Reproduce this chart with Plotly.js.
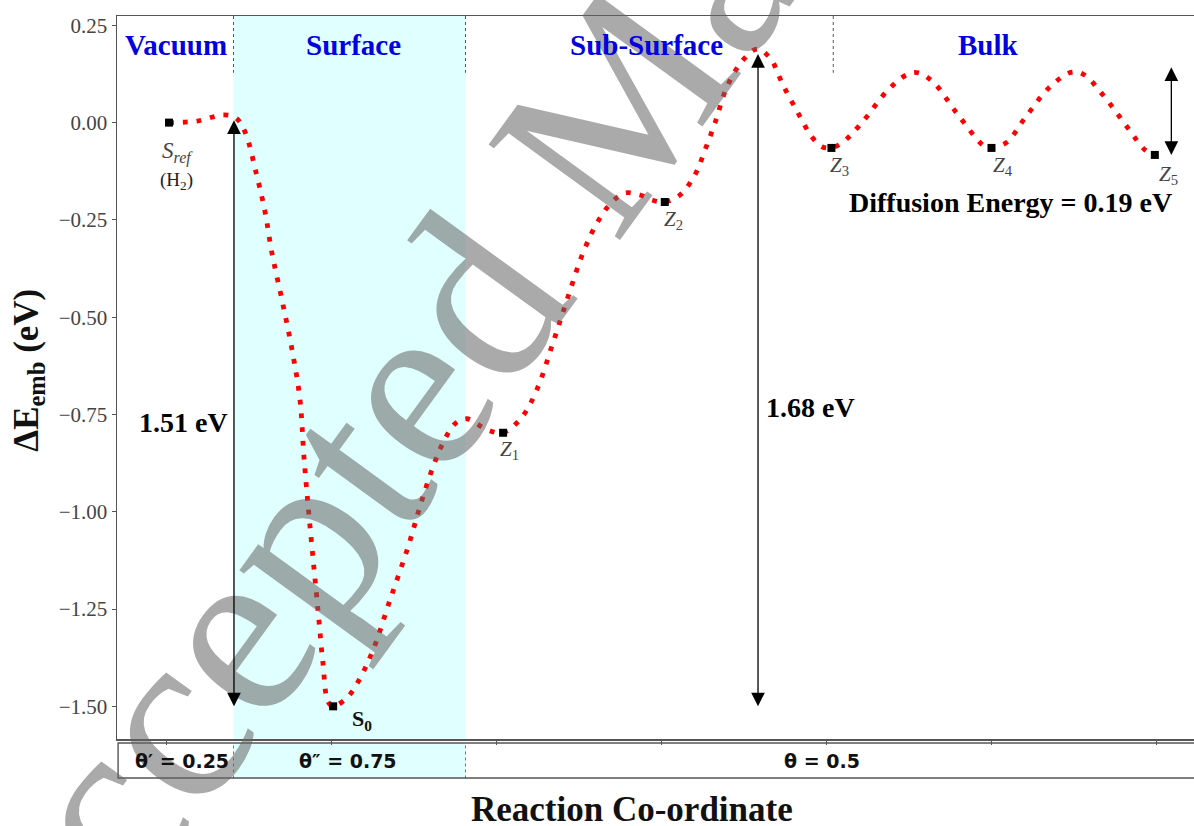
<!DOCTYPE html>
<html>
<head>
<meta charset="utf-8">
<script src="https://cdn.plot.ly/plotly-3.0.1.min.js"></script>
<style>
  html, body { margin: 0; padding: 0; background: #ffffff; overflow: hidden; }
  #chart { width: 1212px; height: 826px; }
</style>
</head>
<body>
<div id="chart"></div>
<script>
// Energy profile of H along the reaction co-ordinate (vacuum -> surface -> sub-surface -> bulk)
const pathX = [0.015, 0.185, 0.348, 0.421, 0.476, 0.542, 0.597, 0.639, 0.700, 0.761,
  0.809, 0.833, 0.870, 0.918, 0.948, 0.979, 1.010, 1.094, 1.161, 1.252,
  1.355, 1.464, 1.536, 1.615, 1.676, 1.748, 1.821, 1.942, 2.039, 2.155,
  2.245, 2.342, 2.427, 2.524, 2.609, 2.700, 2.779, 2.870, 2.942, 3.021,
  3.112, 3.203, 3.264, 3.324, 3.397, 3.494, 3.579, 3.658, 3.736, 3.827,
  3.912, 3.973, 4.027, 4.094, 4.215, 4.367, 4.494, 4.555, 4.645, 4.797,
  4.955, 5.003, 5.094, 5.203, 5.355, 5.488, 5.561, 5.676, 5.827, 5.930, 5.990];
const pathE = [0.000, 0.004, 0.020, 0.012, -0.024, -0.127, -0.229, -0.335, -0.456, -0.584,
  -0.712, -0.859, -1.039, -1.252, -1.388, -1.488, -1.500, -1.478, -1.437, -1.355,
  -1.226, -1.090, -0.987, -0.885, -0.823, -0.774, -0.761, -0.789, -0.797, -0.756,
  -0.686, -0.566, -0.456, -0.335, -0.258, -0.204, -0.181, -0.186, -0.199, -0.204,
  -0.186, -0.134, -0.070, -0.001, 0.092, 0.161, 0.189, 0.166, 0.097, 0.025,
  -0.037, -0.062, -0.065, -0.052, 0.000, 0.081, 0.125, 0.128, 0.105, 0.020,
  -0.060, -0.065, -0.050, 0.012, 0.092, 0.130, 0.123, 0.071, -0.014, -0.070, -0.083];

// Stationary states marked on the profile
const stateLabels = ['<i>S</i><sub><i>ref</i></sub>', '<b>S<sub>0</sub></b>',
  '<i>Z</i><sub>1</sub>', '<i>Z</i><sub>2</sub>', '<i>Z</i><sub>3</sub>',
  '<i>Z</i><sub>4</sub>', '<i>Z</i><sub>5</sub>'];
const stateX = [0.015, 1.01, 2.04, 3.02, 4.03, 5.00, 5.99];
const stateE = [0.00, -1.50, -0.797, -0.204, -0.065, -0.065, -0.083];

// Regions along the co-ordinate
const regionNames = ['Vacuum', 'Surface', 'Sub-Surface', 'Bulk'];
const regionCentres = [0.058, 1.136, 2.912, 4.979];
const regionBounds = [0.406, 1.812, 4.041];
const surfaceSpan = [0.406, 1.812];

// Coverage strip
const coverageLabels = ['θ′ = 0.25', 'θ″ = 0.75', 'θ = 0.5'];
const coverageCentres = [0.094, 1.10, 3.973];

// Energy arrows
const arrowX = [0.409, 3.585, 6.09];
const arrowTop = [0.01, 0.18, 0.146];
const arrowBottom = [-1.50, -1.50, -0.083];
const arrowLabels = ['1.51 eV', '1.68 eV', 'Diffusion Energy = 0.19 eV'];
const arrowLabelX = [0.100, 3.906, 5.118];
const arrowLabelE = [-0.771, -0.733, -0.204];

const yTicks = [0.25, 0.00, -0.25, -0.50, -0.75, -1.00, -1.25, -1.50];
const yTickText = ['0.25', '0.00', '−0.25', '−0.50', '−0.75', '−1.00', '−1.25', '−1.50'];
const xTicks = [0, 1, 2, 3, 4, 5, 6];

const SERIF = 'Liberation Serif, Times New Roman, serif';
const AXIS = '#555555';

const traces = [
  {
    x: pathX, y: pathE, type: 'scatter', mode: 'lines',
    line: { color: '#ff0000', width: 4.8, dash: '4.8px,9px', shape: 'spline', smoothing: 1 },
    hoverinfo: 'skip', showlegend: false
  },
  {
    x: stateX, y: stateE, type: 'scatter', mode: 'markers',
    marker: { symbol: 'square', size: 8, color: '#000000' },
    hoverinfo: 'skip', showlegend: false
  },
  // empty trace so the coverage strip panel gets drawn
  { x: [], y: [], xaxis: 'x2', yaxis: 'y2', type: 'scatter', mode: 'markers', hoverinfo: 'skip', showlegend: false }
];

const shapes = [];
// shaded surface region, main panel and coverage strip
shapes.push({ type: 'rect', xref: 'x', yref: 'y domain', x0: surfaceSpan[0], x1: surfaceSpan[1], y0: 0, y1: 1,
  fillcolor: '#e0ffff', line: { width: 0 }, layer: 'below' });
shapes.push({ type: 'rect', xref: 'x', yref: 'paper', x0: surfaceSpan[0], x1: surfaceSpan[1], y0: 0.0007, y1: 0.0472,
  fillcolor: '#e0ffff', line: { width: 0 }, layer: 'below' });
// region boundaries near the top of the panel
regionBounds.forEach(b => {
  shapes.push({ type: 'line', xref: 'x', yref: 'y', x0: b, x1: b, y0: 0.274, y1: 0.128,
    line: { color: '#555555', width: 1, dash: 'dot' } });
});
// boundaries in the coverage strip
[surfaceSpan[0], surfaceSpan[1]].forEach(b => {
  shapes.push({ type: 'line', xref: 'x', yref: 'paper', x0: b, x1: b, y0: 0.0007, y1: 0.0472,
    line: { color: '#777777', width: 1, dash: 'dot' } });
});
// frame of the coverage strip
shapes.push({ type: 'rect', xref: 'paper', yref: 'paper', x0: 0.001, x1: 1.2, y0: 0.0013, y1: 0.0472,
  fillcolor: 'rgba(0,0,0,0)', line: { color: AXIS, width: 1.4 } });

const annotations = [];

// journal watermark
annotations.push({
  xref: 'paper', yref: 'paper', x: 0.432, y: 0.8326, xanchor: 'center', yanchor: 'middle', showarrow: false,
  text: 'Accepted Manuscript', textangle: -54,
  font: { family: SERIF, size: 248, color: 'rgba(100,100,100,0.55)' }
});

regionNames.forEach((name, i) => {
  annotations.push({ xref: 'x', yref: 'y', x: regionCentres[i], y: 0.200, xanchor: 'center', yanchor: 'middle',
    showarrow: false, text: '<b>' + name + '</b>', font: { family: SERIF, size: 29, color: '#0000e0' } });
});

coverageLabels.forEach((t, i) => {
  annotations.push({ xref: 'x', yref: 'paper', x: coverageCentres[i], y: 0.024, xanchor: 'center', yanchor: 'middle',
    showarrow: false, text: '<b>' + t + '</b>', font: { family: 'DejaVu Sans, sans-serif', size: 19, color: '#111111' } });
});

// double-headed energy arrows
arrowX.forEach((ax, i) => {
  annotations.push({ xref: 'x', yref: 'y', axref: 'x', ayref: 'y',
    x: ax, y: arrowBottom[i], ax: ax, ay: arrowTop[i], text: '', showarrow: true,
    arrowside: 'end+start', arrowhead: 2, startarrowhead: 2, arrowsize: 2.1, startarrowsize: 2.1,
    arrowwidth: 1.3, arrowcolor: '#000000', standoff: 0, startstandoff: 0 });
  annotations.push({ xref: 'x', yref: 'y', x: arrowLabelX[i], y: arrowLabelE[i], xanchor: 'center', yanchor: 'middle',
    showarrow: false, text: '<b>' + arrowLabels[i] + '</b>', font: { family: SERIF, size: 28, color: '#000000' } });
});

// state labels placed next to their markers
const labelShiftX = [9, 29, 6, 9, 8, 12, 14];
const labelShiftY = [-30, -14, -17, -18, -18, -18, -20];
stateLabels.forEach((t, i) => {
  const bold = i === 1;
  annotations.push({ xref: 'x', yref: 'y', x: stateX[i], y: stateE[i], xshift: labelShiftX[i], yshift: labelShiftY[i],
    xanchor: 'center', yanchor: 'middle', showarrow: false, text: t,
    font: { family: SERIF, size: i === 0 ? 23 : (bold ? 22 : 21), color: bold ? '#111111' : '#444444' } });
});
annotations.push({ xref: 'x', yref: 'y', x: stateX[0], y: stateE[0], xshift: 8, yshift: -58,
  xanchor: 'center', yanchor: 'middle', showarrow: false, text: '(H<sub>2</sub>)',
  font: { family: SERIF, size: 19, color: '#222222' } });

// axis titles
annotations.push({ xref: 'paper', yref: 'paper', x: 0.473, y: -0.040, xanchor: 'center', yanchor: 'middle',
  showarrow: false, text: '<b>Reaction Co-ordinate</b>', font: { family: SERIF, size: 35, color: '#111111' } });
annotations.push({ xref: 'paper', yref: 'paper', x: -0.082, y: 0.536, xanchor: 'center', yanchor: 'middle',
  showarrow: false, textangle: -90,
  text: '<b>ΔE<sub>emb</sub> (eV)</b>', font: { family: SERIF, size: 35, color: '#111111' } });

const layout = {
  width: 1212, height: 826,
  margin: { l: 117, r: 7, t: 16, b: 47 },
  paper_bgcolor: '#ffffff', plot_bgcolor: '#ffffff',
  showlegend: false,
  xaxis: {
    range: [-0.3, 6.294], domain: [0, 1], anchor: 'y',
    tickvals: xTicks, ticks: 'outside', ticklen: 4, tickwidth: 1, tickcolor: AXIS,
    showticklabels: false, showgrid: false, zeroline: false,
    showline: true, mirror: true, linecolor: AXIS, linewidth: 1.5
  },
  yaxis: {
    range: [-1.584, 0.274], domain: [0.0524, 1], anchor: 'x',
    tickvals: yTicks, ticktext: yTickText, ticks: 'outside', ticklen: 4, tickwidth: 1, tickcolor: AXIS,
    tickfont: { family: SERIF, size: 21, color: '#444444' }, ticklabelstandoff: 0,
    showgrid: false, zeroline: false,
    showline: true, mirror: true, linecolor: AXIS, linewidth: 1.5
  },
  xaxis2: {
    matches: 'x', anchor: 'y2', tickvals: xTicks, ticks: '', showticklabels: false, showgrid: false, zeroline: false,
    showline: false
  },
  yaxis2: {
    range: [0, 1], domain: [0.0007, 0.0472], anchor: 'x2', ticks: '', showticklabels: false,
    showgrid: false, zeroline: false, showline: false
  },
  shapes: shapes,
  annotations: annotations
};

Plotly.newPlot('chart', traces, layout, { displayModeBar: false, staticPlot: true });
</script>
</body>
</html>
